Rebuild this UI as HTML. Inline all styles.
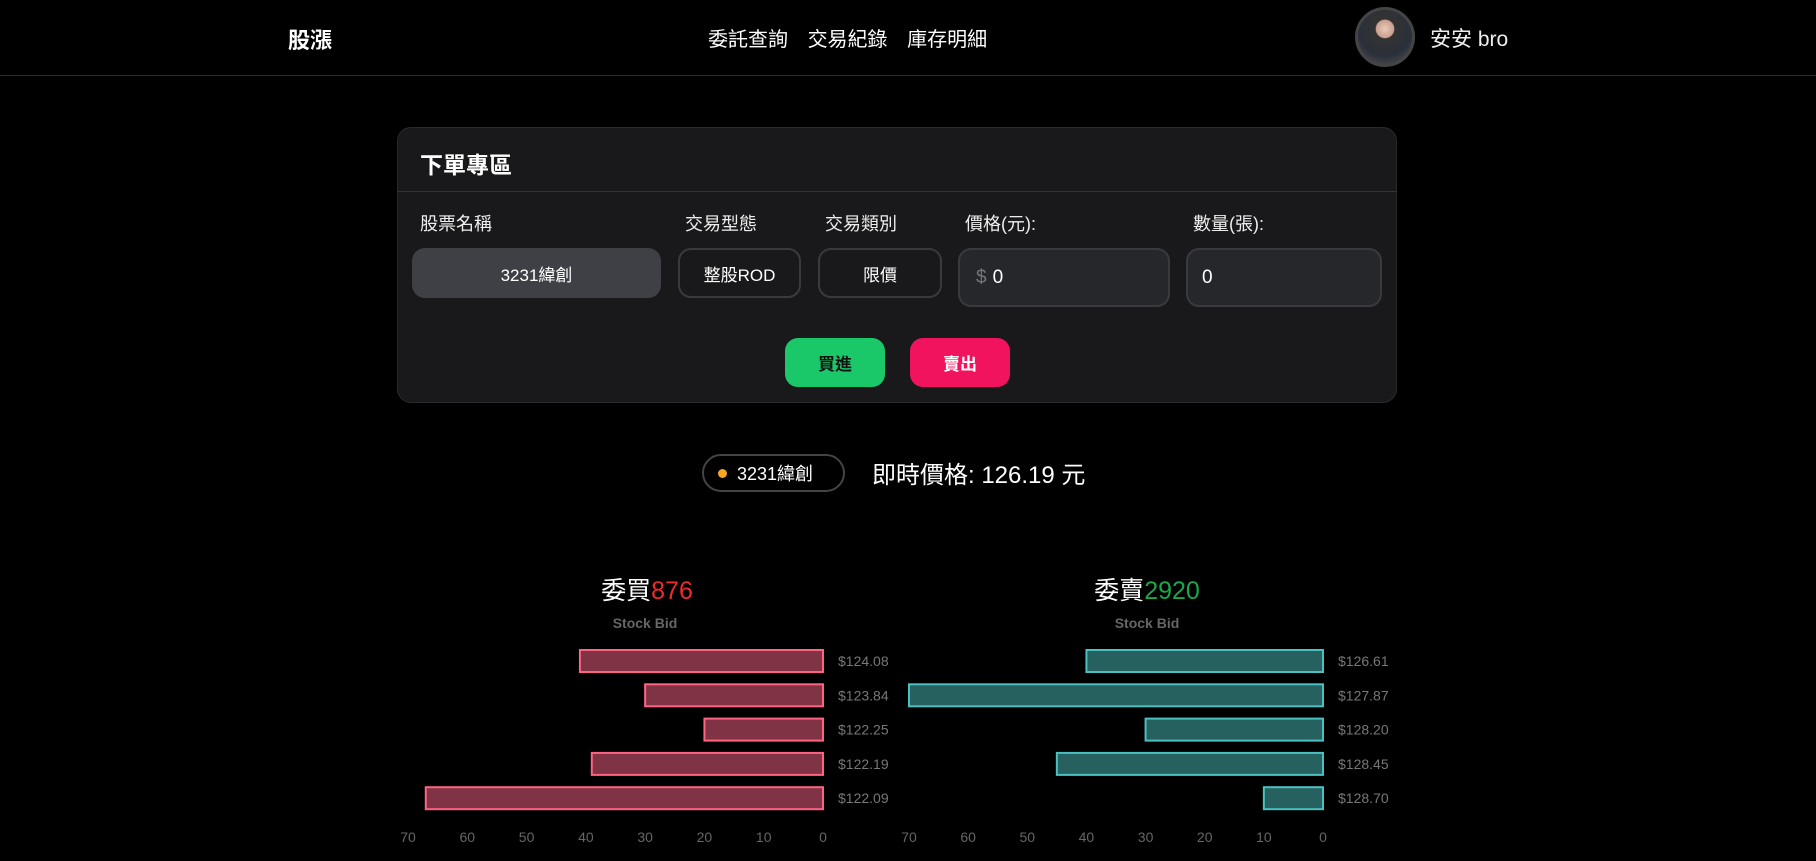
<!DOCTYPE html>
<html><head><meta charset="utf-8">
<style>
*{margin:0;padding:0;box-sizing:border-box}
body{width:1816px;height:861px;background:#000;color:#fff;font-family:"Liberation Sans","Noto Sans CJK TC",sans-serif;position:relative;overflow:hidden}
.abs{position:absolute}
.hdr{left:0;top:0;width:1816px;height:76px;border-bottom:1px solid #2a2a2a}
.lbl{font-size:18px;color:#eee;top:210px}
.box{border-radius:13px;display:flex;align-items:center;justify-content:center;font-size:17px}
</style></head><body>
<div class="abs hdr"></div>
<div class="abs" style="left:288px;top:23px;font-size:22px;font-weight:bold">股漲</div>
<div class="abs" style="left:708px;top:23px;font-size:20px;word-spacing:14px"><span>委託查詢</span> <span>交易紀錄</span> <span>庫存明細</span></div>
<div class="abs" style="left:1355px;top:7px;width:60px;height:60px;border-radius:50%;border:3px solid #444;background:radial-gradient(circle at 50% 35%,#e9c9b7 0,#c9a090 20%,#333 22%,#2a2f3a 60%,#555 100%)"></div>
<div class="abs" style="left:1430px;top:23px;font-size:21px;color:#eee">安安 bro</div>

<div class="abs" style="left:397px;top:127px;width:1000px;height:276px;background:#19191b;border:1px solid #2a2a2c;border-radius:14px"></div>
<div class="abs" style="left:420px;top:146px;font-size:23px;font-weight:bold">下單專區</div>
<div class="abs" style="left:397px;top:191px;width:1000px;height:1px;background:#333"></div>
<div class="abs lbl" style="left:420px">股票名稱</div>
<div class="abs lbl" style="left:685px">交易型態</div>
<div class="abs lbl" style="left:825px">交易類別</div>
<div class="abs lbl" style="left:965px">價格(元):</div>
<div class="abs lbl" style="left:1193px">數量(張):</div>
<div class="abs box" style="left:412px;top:248px;width:249px;height:50px;background:#3f4046">3231緯創</div>
<div class="abs box" style="left:678px;top:248px;width:123px;height:50px;border:2px solid #3a3a3e">整股ROD</div>
<div class="abs box" style="left:818px;top:248px;width:124px;height:50px;border:2px solid #3a3a3e">限價</div>
<div class="abs box" style="left:958px;top:248px;width:212px;height:59px;background:#26272b;border:2px solid #3a3a3e;justify-content:flex-start;padding-left:16px;font-size:19px"><span style="color:#777;margin-right:6px">$</span>0</div>
<div class="abs box" style="left:1186px;top:248px;width:196px;height:59px;background:#26272b;border:2px solid #3a3a3e;justify-content:flex-start;padding-left:14px;font-size:19px">0</div>
<div class="abs box" style="left:785px;top:338px;width:100px;height:49px;background:#1ac769;color:#111;font-weight:bold">買進</div>
<div class="abs box" style="left:910px;top:338px;width:100px;height:49px;background:#f2135f;font-weight:bold">賣出</div>

<div class="abs" style="left:702px;top:454px;width:143px;height:38px;border:2px solid #444;border-radius:19px;font-size:18px;display:flex;align-items:center;padding-left:14px"><span style="width:9px;height:9px;border-radius:50%;background:#f5a623;margin-right:10px"></span>3231緯創</div>
<div class="abs" style="left:872px;top:455px;font-size:24px">即時價格: 126.19 元</div>

<div class="abs" style="left:647px;top:571px;transform:translateX(-50%);font-size:25px;white-space:nowrap">委買<span style="color:#ee2b2b">876</span></div>
<div class="abs" style="left:1147px;top:571px;transform:translateX(-50%);font-size:25px;white-space:nowrap">委賣<span style="color:#18a84a">2920</span></div>

<svg class="abs" id="ch" style="left:0;top:0" width="1816" height="861"></svg>
<script>
const bidPrices=["$124.08","$123.84","$122.25","$122.19","$122.09"];
const bidVolumes=[41,30,20,39,67];
const askPrices=["$126.61","$127.87","$128.20","$128.45","$128.70"];
const askVolumes=[40,70,30,45,10];
const ticks=[70,60,50,40,30,20,10,0];
const svg=document.getElementById('ch');const NS='http://www.w3.org/2000/svg';
function mk(t,a,txt){const e=document.createElementNS(NS,t);for(const k in a)e.setAttribute(k,a[k]);if(txt!=null)e.textContent=txt;svg.appendChild(e);return e;}
function draw(x0,x70,cx,prices,vols,fill,stroke,key){
  const xs=v=>x0-(x0-x70)*v/70;
  const ys=i=>661+i*34.3;
  const t=mk('text',{x:cx,y:628,'text-anchor':'middle','font-size':14,'font-weight':'bold',fill:'#666','font-family':'Liberation Sans'},'Stock Bid');
  
  
  vols.forEach((v,i)=>{
    const r=mk('rect',{x:xs(v),y:ys(i)-11,width:x0-xs(v),height:22,fill:fill,stroke:stroke,'stroke-width':2});
    
    
    const l=mk('text',{x:x0+15,y:ys(i)+5,'font-size':14,fill:'#777','font-family':'Liberation Sans'},prices[i]);
    
    
  });
  ticks.forEach(v=>{
    const l=mk('text',{x:xs(v),y:842,'text-anchor':'middle','font-size':14,fill:'#666','font-family':'Liberation Sans'},v);
    
    
  });
}
draw(823,408,645,bidPrices,bidVolumes,'#7f3344','#ff6384','bid');
draw(1323,909,1147,askPrices,askVolumes,'#26615f','#4bc0c0','ask');
</script>
</body></html>
